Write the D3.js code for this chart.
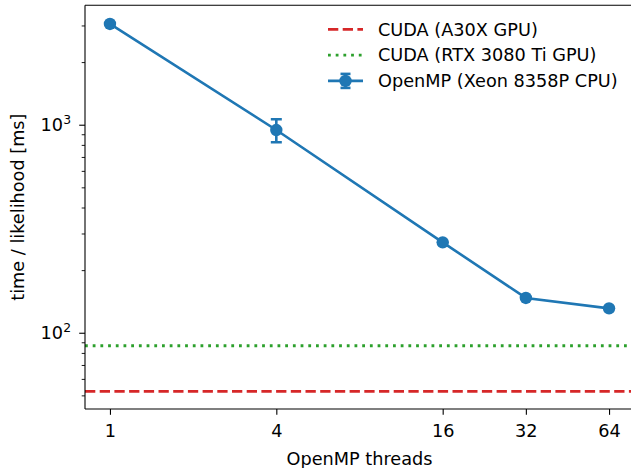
<!DOCTYPE html>
<html>
<head>
<meta charset="utf-8">
<script src="https://cdn.jsdelivr.net/npm/d3@7"></script>
<style>
  body { margin: 0; background: #fff; }
  text { font-family: "DejaVu Sans", sans-serif; fill: #000; }
</style>
</head>
<body>
<div id="chart"></div>
<script>
// data
var threads = [1, 4, 16, 32, 64];
var cpuTime = [3050, 943, 272, 147, 131];
var cpuLow = [3050, 823, 272, 147, 131];
var cpuHigh = [3050, 1062, 272, 147, 131];
var a30xTime = 52.3;
var rtxTime = 86.6;
var xTicks = [1, 4, 16, 32, 64];
var yTicks = [100, 1000];
var yMinor = [50, 60, 70, 80, 90, 200, 300, 400, 500, 600, 700, 800, 900, 2000, 3000];

var seriesNames = ["CUDA (A30X GPU)", "CUDA (RTX 3080 Ti GPU)", "OpenMP (Xeon 8358P CPU)"];

var svgWidth = 631;
var svgHeight = 468;

var margin = { top: 5.3, left: 85, bottom: 409, right: 634 };

var blue = "#1f77b4", red = "#d62728", green = "#2ca02c";
var fs = 17.7;

var svg = d3.select("#chart")
    .append("svg")
    .attr("width", svgWidth)
    .attr("height", svgHeight);

svg.append("defs").append("clipPath").attr("id", "clip")
    .append("rect")
    .attr("x", margin.left).attr("y", margin.top)
    .attr("width", margin.right - margin.left)
    .attr("height", margin.bottom - margin.top);

// scales
var x = d3.scaleLog().base(2)
    .domain([Math.pow(2, -0.3), Math.pow(2, 6.3)])
    .range([margin.left, margin.right]);

var y = d3.scaleLog()
    .domain([43, 3750])
    .range([margin.bottom, margin.top]);

// axes
var xAxis = svg.append("g")
    .attr("transform", `translate(0, ${margin.bottom})`)
    .call(d3.axisBottom(x).tickValues(xTicks).tickFormat(d3.format("d")).tickSize(5.8).tickPadding(9.2));
xAxis.select(".domain").remove();
xAxis.selectAll("line").attr("stroke", "#000").attr("stroke-width", 1.1);
xAxis.selectAll("text").attr("font-size", fs).attr("font-family", "DejaVu Sans").attr("dy", "0.71em");

var yAxis = svg.append("g")
    .attr("transform", `translate(${margin.left}, 0)`)
    .call(d3.axisLeft(y).tickValues(yTicks).tickFormat("").tickSize(5.8));
yAxis.select(".domain").remove();
yAxis.selectAll("line").attr("stroke", "#000").attr("stroke-width", 1.1);

var yMinorAxis = svg.append("g")
    .attr("transform", `translate(${margin.left}, 0)`)
    .call(d3.axisLeft(y).tickValues(yMinor).tickFormat("").tickSize(3.3));
yMinorAxis.select(".domain").remove();
yMinorAxis.selectAll("line").attr("stroke", "#000").attr("stroke-width", 0.9);

// y tick labels as 10^n
yTicks.forEach(function (v) {
    var t = svg.append("text")
        .attr("x", margin.left - 14)
        .attr("y", y(v))
        .attr("dy", "0.36em")
        .attr("text-anchor", "end")
        .attr("font-size", fs);
    t.append("tspan").text("10");
    t.append("tspan").attr("font-size", fs * 0.7).attr("dy", "-0.55em").text(Math.round(Math.log10(v)));
});

// lines
var plot = svg.append("g").attr("clip-path", "url(#clip)");

plot.append("line")
    .attr("x1", margin.left).attr("x2", margin.right)
    .attr("y1", y(a30xTime)).attr("y2", y(a30xTime))
    .attr("stroke", red).attr("stroke-width", 2.8)
    .attr("stroke-dasharray", "10.3,4.4");

plot.append("line")
    .attr("x1", margin.left).attr("x2", margin.right)
    .attr("y1", y(rtxTime)).attr("y2", y(rtxTime))
    .attr("stroke", green).attr("stroke-width", 2.8)
    .attr("stroke-dasharray", "2.8,4.9");

var cpuData = threads.map(function (t, i) {
    return { t: t, v: cpuTime[i], lo: cpuLow[i], hi: cpuHigh[i] };
});

var line = d3.line().x(d => x(d.t)).y(d => y(d.v));

plot.append("path")
    .datum(cpuData)
    .attr("d", line)
    .attr("fill", "none")
    .attr("stroke", blue)
    .attr("stroke-width", 2.6);

var eb = plot.selectAll(".eb").data(cpuData).enter().append("g");
eb.append("line")
    .attr("x1", d => x(d.t)).attr("x2", d => x(d.t))
    .attr("y1", d => y(d.lo)).attr("y2", d => y(d.hi))
    .attr("stroke", blue).attr("stroke-width", 2.6);
eb.append("line")
    .attr("x1", d => x(d.t) - 5.5).attr("x2", d => x(d.t) + 5.5)
    .attr("y1", d => y(d.lo)).attr("y2", d => y(d.lo))
    .attr("stroke", blue).attr("stroke-width", 2.6);
eb.append("line")
    .attr("x1", d => x(d.t) - 5.5).attr("x2", d => x(d.t) + 5.5)
    .attr("y1", d => y(d.hi)).attr("y2", d => y(d.hi))
    .attr("stroke", blue).attr("stroke-width", 2.6);

plot.selectAll("circle")
    .data(cpuData)
    .enter()
    .append("circle")
    .attr("cx", d => x(d.t))
    .attr("cy", d => y(d.v))
    .attr("r", 6.2)
    .attr("fill", blue);

// spines
svg.append("line")
    .attr("x1", margin.left).attr("x2", margin.left)
    .attr("y1", margin.top).attr("y2", margin.bottom)
    .attr("stroke", "#000").attr("stroke-width", 1.1);
svg.append("line")
    .attr("x1", margin.left).attr("x2", margin.right)
    .attr("y1", margin.bottom).attr("y2", margin.bottom)
    .attr("stroke", "#000").attr("stroke-width", 1.1);
svg.append("line")
    .attr("x1", margin.left).attr("x2", margin.right)
    .attr("y1", margin.top).attr("y2", margin.top)
    .attr("stroke", "#000").attr("stroke-width", 1.1);

// axis labels
svg.append("text")
    .attr("x", (margin.left + margin.right) / 2)
    .attr("y", 465)
    .attr("text-anchor", "middle")
    .attr("font-size", fs)
    .text("OpenMP threads");

svg.append("text")
    .attr("transform", `translate(17.5, ${(margin.top + margin.bottom) / 2}) rotate(-90)`)
    .attr("text-anchor", "middle")
    .attr("dy", "0.35em")
    .attr("font-size", fs)
    .text("time / likelihood [ms]");

// legend
var legend = svg.append("g");
var rowsY = [29.3, 55.1, 80.9];
var lx1 = 328, lx2 = 363;

legend.append("line")
    .attr("x1", lx1).attr("x2", lx2).attr("y1", rowsY[0]).attr("y2", rowsY[0])
    .attr("stroke", red).attr("stroke-width", 2.8).attr("stroke-dasharray", "10.3,4.4");
legend.append("line")
    .attr("x1", lx1).attr("x2", lx2).attr("y1", rowsY[1]).attr("y2", rowsY[1])
    .attr("stroke", green).attr("stroke-width", 2.8).attr("stroke-dasharray", "2.8,4.9");

var lmx = (lx1 + lx2) / 2;
legend.append("line")
    .attr("x1", lx1).attr("x2", lx2).attr("y1", rowsY[2]).attr("y2", rowsY[2])
    .attr("stroke", blue).attr("stroke-width", 2.6);
legend.append("line")
    .attr("x1", lmx).attr("x2", lmx).attr("y1", rowsY[2] - 7).attr("y2", rowsY[2] + 7)
    .attr("stroke", blue).attr("stroke-width", 2.6);
[-7, 7].forEach(function (o) {
    legend.append("line")
        .attr("x1", lmx - 5).attr("x2", lmx + 5).attr("y1", rowsY[2] + o).attr("y2", rowsY[2] + o)
        .attr("stroke", blue).attr("stroke-width", 2.6);
});
legend.append("circle").attr("cx", lmx).attr("cy", rowsY[2]).attr("r", 6.2).attr("fill", blue);

legend.selectAll("text.lbl")
    .data(seriesNames)
    .enter()
    .append("text")
    .attr("class", "lbl")
    .attr("x", 378)
    .attr("y", (d, i) => rowsY[i])
    .attr("dy", "0.36em")
    .attr("font-size", fs)
    .text(d => d);
</script>
</body>
</html>
